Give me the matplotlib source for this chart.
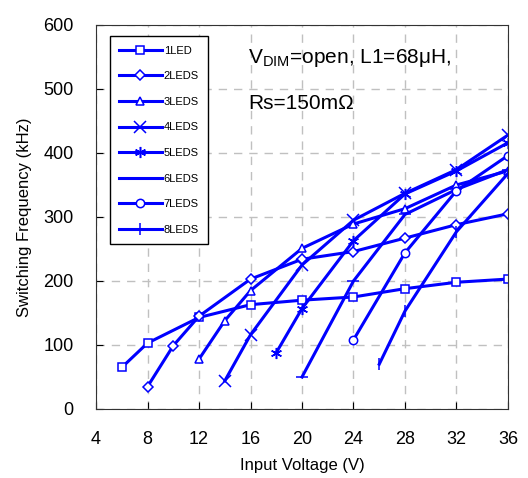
import matplotlib
matplotlib.use("Agg")
import matplotlib.pyplot as plt

plt.rcParams["font.family"] = ["Liberation Sans", "DejaVu Sans"]
plt.rcParams["mathtext.fontset"] = "custom"
plt.rcParams["mathtext.rm"] = "Liberation Sans"

# switching frequency (kHz) vs input voltage (V), one series per LED count
V_1LED = [6, 8, 12, 16, 20, 24, 28, 32, 36]
F_1LED = [65, 103, 143, 163, 170, 175, 188, 198, 203]
V_2LEDS = [8, 10, 12, 16, 20, 24, 28, 32, 36]
F_2LEDS = [35, 99, 145, 203, 234, 246, 267, 288, 305]
V_3LEDS = [12, 14, 16, 20, 24, 28, 32, 36]
F_3LEDS = [78, 138, 185, 251, 289, 313, 350, 372]
V_4LEDS = [14, 16, 20, 24, 28, 32, 36]
F_4LEDS = [44, 116, 225, 295, 337, 374, 428]
V_5LEDS = [18, 20, 24, 28, 32, 36]
F_5LEDS = [88, 157, 263, 336, 372, 416]
V_6LEDS = [20, 24, 28, 32, 36]
F_6LEDS = [50, 200, 304, 343, 374]
V_7LEDS = [24, 28, 32, 36]
F_7LEDS = [108, 244, 341, 396]
V_8LEDS = [26, 28, 32, 36]
F_8LEDS = [70, 153, 277, 368]

SERIES = [
    ("1LED", V_1LED, F_1LED, "s"),
    ("2LEDS", V_2LEDS, F_2LEDS, "D"),
    ("3LEDS", V_3LEDS, F_3LEDS, "^"),
    ("4LEDS", V_4LEDS, F_4LEDS, "x"),
    ("5LEDS", V_5LEDS, F_5LEDS, (6, 2, 0)),
    ("6LEDS", V_6LEDS, F_6LEDS, "_"),
    ("7LEDS", V_7LEDS, F_7LEDS, "o"),
    ("8LEDS", V_8LEDS, F_8LEDS, "|"),
]
X_TICKS = [4, 8, 12, 16, 20, 24, 28, 32, 36]
Y_TICKS = [0, 100, 200, 300, 400, 500, 600]

BLUE = "#0000ff"
OPEN = ("s", "D", "^", "o")

fig = plt.figure(figsize=(5.28, 4.78), dpi=100)
ax = fig.add_axes([0.182, 0.1444, 0.78, 0.8033])

for label, v, f, mk in SERIES:
    ms = {"s": 5.5, "D": 5, "^": 6, "o": 6}.get(mk, 8)
    ax.plot(v, f, color=BLUE, lw=2.2, marker=mk, ms=ms,
            mfc="white" if mk in OPEN else BLUE, mec=BLUE, mew=1.1, label=label)

ax.set_xlim(4, 36)
ax.set_ylim(0, 600)
ax.set_xticks(X_TICKS)
ax.set_yticks(Y_TICKS)
ax.tick_params(direction="in", labelsize=13, length=5)
ax.tick_params(axis="x", pad=16)
ax.tick_params(axis="y", pad=16)
ax.grid(True, ls=(0, (6, 5)), color="#c0c0c0", lw=1)
for s in ax.spines.values():
    s.set_color("#333333")

ax.set_xlabel("Input Voltage (V)", fontsize=12, labelpad=7)
ax.set_ylabel("Switching Frequency (kHz)", fontsize=12, labelpad=8)

ax.text(0.37, 0.915, "V$_{\\mathrm{DIM}}$=open, L1=68\u03bcH,", transform=ax.transAxes,
        fontsize=15, va="center")
ax.text(0.37, 0.795, "Rs=150m\u03a9", transform=ax.transAxes, fontsize=15, va="center")

leg = ax.legend(loc="upper left", bbox_to_anchor=(0.02, 0.985), fontsize=8, fancybox=False,
                framealpha=1, edgecolor="black", handlelength=3.8, labelspacing=1.4,
                borderpad=0.85, handletextpad=0.2)
leg.get_frame().set_linewidth(1)

fig.savefig("out.png", dpi=100)
